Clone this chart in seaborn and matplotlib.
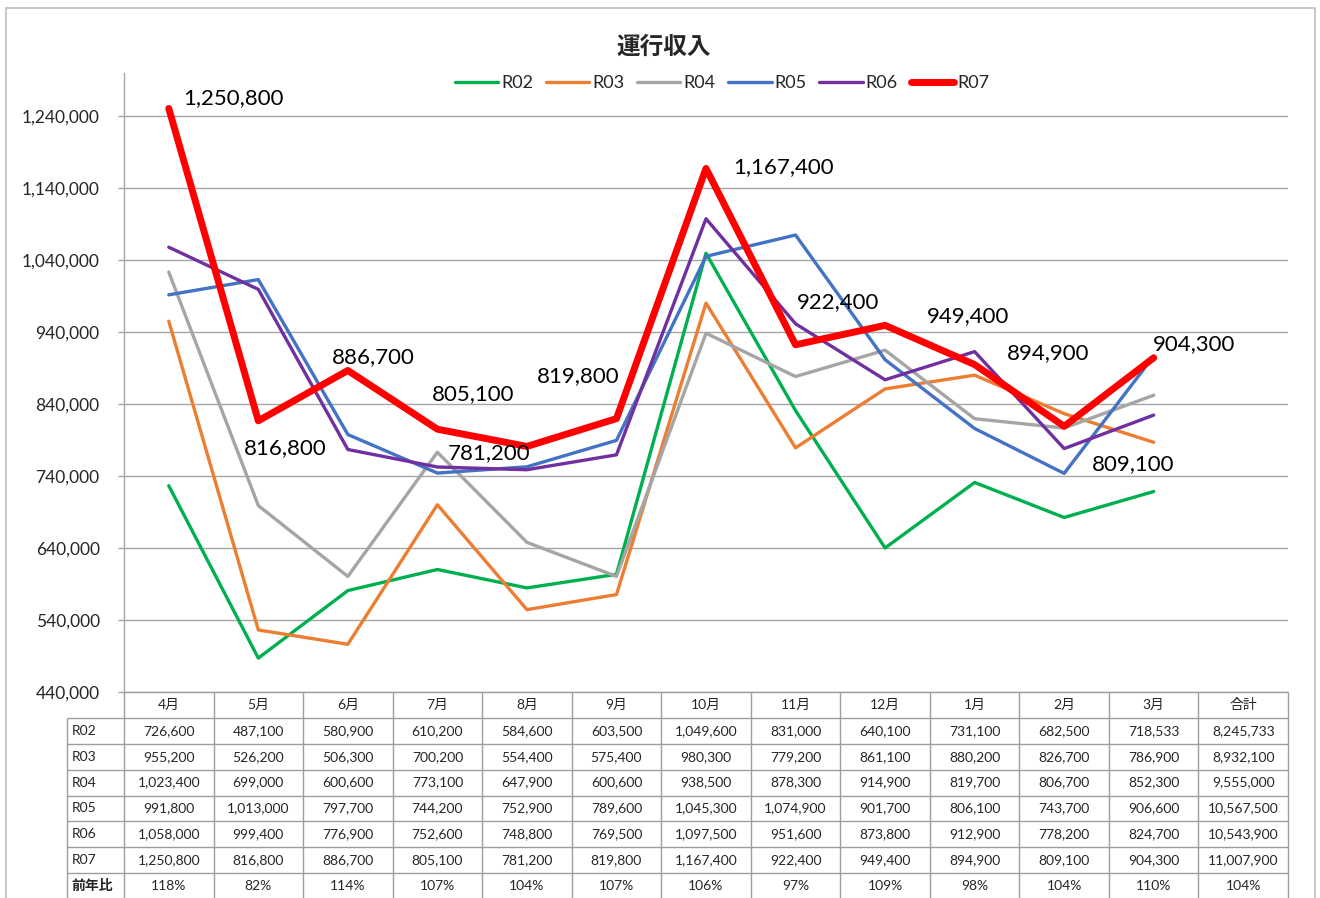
import numpy as np
import pandas as pd
import matplotlib
matplotlib.use("Agg")
import matplotlib.pyplot as plt
from matplotlib.ticker import FuncFormatter
from matplotlib.patches import Rectangle
import seaborn as sns

# データ
months = ["4月", "5月", "6月", "7月", "8月", "9月", "10月", "11月", "12月", "1月", "2月", "3月"]
series_names = ["R02", "R03", "R04", "R05", "R06", "R07"]
r02 = [726600, 487100, 580900, 610200, 584600, 603500, 1049600, 831000, 640100, 731100, 682500, 718533]
r03 = [955200, 526200, 506300, 700200, 554400, 575400, 980300, 779200, 861100, 880200, 826700, 786900]
r04 = [1023400, 699000, 600600, 773100, 647900, 600600, 938500, 878300, 914900, 819700, 806700, 852300]
r05 = [991800, 1013000, 797700, 744200, 752900, 789600, 1045300, 1074900, 901700, 806100, 743700, 906600]
r06 = [1058000, 999400, 776900, 752600, 748800, 769500, 1097500, 951600, 873800, 912900, 778200, 824700]
r07 = [1250800, 816800, 886700, 805100, 781200, 819800, 1167400, 922400, 949400, 894900, 809100, 904300]
totals = [8245733, 8932100, 9555000, 10567500, 10543900, 11007900]
yoy = ["118%", "82%", "114%", "107%", "104%", "107%", "106%", "97%", "109%", "98%", "104%", "110%", "104%"]

colors = ["#00B050", "#ED7D31", "#A5A5A5", "#4472C4", "#7030A0", "#FF0000"]
widths = [2.4, 2.4, 2.4, 2.4, 2.4, 5.0]
# R07 のデータラベル位置（点からのずれ, px）
label_offsets = [(14, 10), (-14, -27), (-16, 13), (-6, 35), (-79, -7), (-80, 43),
                 (27, 1), (1, 43), (42, 9), (32, 11), (28, -38), (-1, 14)]

sns.set_theme(style="white")
plt.rcParams["font.family"] = ["Lato", "Noto Sans CJK JP", "DejaVu Sans"]

W, H = 1320, 898
fig = plt.figure(figsize=(W / 100, H / 100), dpi=100)
fig.patch.set_facecolor("white")
fig.patches.append(Rectangle((6 / W, -0.05), (1315 - 6) / W, 1.05 - 8 / H, transform=fig.transFigure,
                             fill=False, edgecolor="#BFBFBF", linewidth=1.2))

ax = fig.add_axes([124 / W, 1 - 692 / H, (1288 - 124) / W, (692 - 73) / H])
ax.set_facecolor("white")

df = pd.DataFrame({"x": np.tile(np.arange(len(months)), len(series_names)),
                   "value": r02 + r03 + r04 + r05 + r06 + r07,
                   "series": np.repeat(series_names, len(months))})

for name, c, lw in zip(series_names, colors, widths):
    sub = df[df["series"] == name]
    sns.lineplot(data=sub, x="x", y="value", color=c, linewidth=lw, label=name, ax=ax,
                 solid_capstyle="round", solid_joinstyle="round", zorder=3)

for i, v in enumerate(r07):
    dx, dy = label_offsets[i]
    ax.annotate(f"{v:,}", (i, v), xytext=(dx, dy), textcoords="offset pixels",
                ha="left", va="center", fontsize=16, color="black", zorder=5)

ax.set_xlim(-0.5, len(months) + 0.5)
ax.set_ylim(440000, 1300000)
ax.set_yticks(np.arange(440000, 1300000, 100000))
ax.yaxis.set_major_formatter(FuncFormatter(lambda v, p: f"{v:,.0f}"))
ax.set_xticks([])
ax.set_xlabel("")
ax.set_ylabel("")
ax.tick_params(axis="y", length=4.5, width=1, color="#A6A6A6", pad=13, labelsize=12.5, left=True)
ax.yaxis.grid(True, color="#A6A6A6", linewidth=1)
for s in ["top", "right", "bottom"]:
    ax.spines[s].set_visible(False)
ax.spines["left"].set_color("#A6A6A6")
ax.spines["left"].set_linewidth(1)

handles, labels = ax.get_legend_handles_labels()
ax.legend(handles, labels, loc="center", bbox_to_anchor=(722 / W, 1 - 83 / H), bbox_transform=fig.transFigure,
          ncol=6, frameon=False, fontsize=13, handlelength=2.4, handletextpad=0.17, columnspacing=0.7)

fig.text(664 / W, 1 - 47 / H, "運行収入", ha="center", va="center", fontsize=17, fontweight="bold",
         family=["Noto Sans CJK JP"])

# データテーブル
unit = (1288 - 124) / 13
lab_left = -0.5 - (124 - 67) / unit
tax = fig.add_axes([67 / W, 1 - 899 / H, (1288 - 67) / W, (899 - 692) / H])
tax.set_xlim(lab_left, 12.5)
tax.set_ylim(8, 0)
tax.axis("off")
tcol = "#9E9E9E"
cols = months + ["合計"]
tax.vlines(np.arange(len(cols) + 1) - 0.5, 0, 8, color=tcol, linewidth=1, clip_on=False)
tax.vlines([lab_left], 1, 8, color=tcol, linewidth=1, clip_on=False)
tax.hlines(np.arange(1, 9), lab_left, 12.5, color=tcol, linewidth=1, clip_on=False)
tax.hlines([0], -0.5, 12.5, color=tcol, linewidth=1, clip_on=False)

for j, m in enumerate(cols):
    tax.text(j, 0.5, m, ha="center", va="center", fontsize=10)

all_rows = [r02, r03, r04, r05, r06, r07]
for r, (name, vals) in enumerate(zip(series_names, all_rows)):
    tax.text(lab_left + 0.05, r + 1.5, name, ha="left", va="center", fontsize=10)
    for j, v in enumerate(vals + [totals[r]]):
        tax.text(j, r + 1.5, f"{v:,}", ha="center", va="center", fontsize=10)
tax.text(lab_left + 0.05, 7.5, "前年比", ha="left", va="center", fontsize=10, fontweight="bold",
         family=["Noto Sans CJK JP"])
for j, t in enumerate(yoy):
    tax.text(j, 7.5, t, ha="center", va="center", fontsize=10)

fig.savefig("out.png", dpi=100, facecolor="white")
